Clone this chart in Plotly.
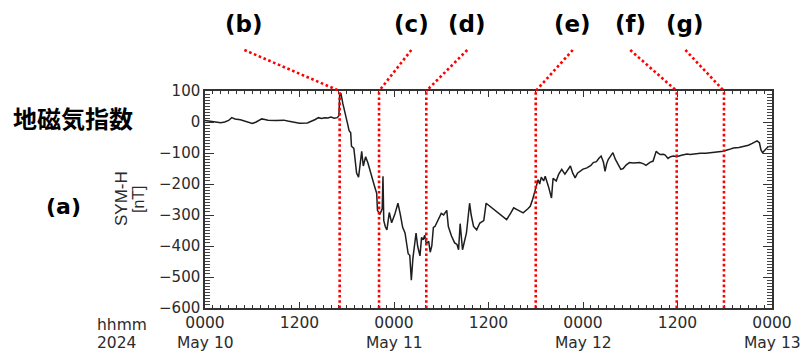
import pandas as pd
import plotly.graph_objects as go

# SYM-H index (nT), sampled by hours after 2024-05-10 00:00 UT
hours = [
    0.0, 0.5, 1.0, 1.5, 2.0, 2.5, 3.0, 3.4, 3.8, 4.5, 5.0, 5.5, 6.0, 6.5, 7.2, 7.6,
    8.0, 9.0, 10.0, 10.5, 11.0, 12.0, 13.0, 13.5, 14.0, 14.4, 14.8, 15.2, 15.6, 16.0,
    16.4, 16.8, 17.0, 17.1, 17.25, 17.5, 17.8, 18.1, 18.3, 18.5, 18.6, 18.9, 19.1,
    19.25, 19.5, 19.7, 19.9, 20.1, 20.4, 20.7, 20.95, 21.3, 21.5, 21.8, 21.9, 22.2,
    22.5, 22.6, 22.7, 22.9, 23.1, 23.4, 23.7, 24.1, 24.5, 24.8, 25.1, 25.4, 25.8,
    26.0, 26.2, 26.4, 26.6, 26.8, 27.0, 27.3, 27.5, 27.7, 27.9, 28.1, 28.4, 28.6,
    28.8, 29.0, 29.2, 29.6, 30.0, 30.3, 30.7, 30.9, 31.3, 31.7, 32.0, 32.2, 32.4,
    32.7, 33.0, 33.2, 33.6, 33.8, 34.1, 34.5, 34.9, 35.4, 35.7, 36.2, 36.6, 37.0,
    37.6, 38.3, 38.8, 39.2, 39.8, 40.4, 41.0, 41.3, 41.6, 41.9, 42.3, 42.5, 42.7,
    43.0, 43.2, 43.6, 44.0, 44.2, 44.6, 44.9, 45.3, 45.7, 46.0, 46.4, 46.7, 47.0,
    47.3, 47.6, 48.0, 48.5, 49.0, 49.3, 49.7, 50.0, 50.3, 50.6, 50.8, 51.0, 51.2,
    51.5, 51.8, 52.1, 52.5, 52.8, 53.1, 53.5, 53.9, 54.4, 55.2, 55.7, 56.0, 56.5,
    56.9, 57.3, 57.5, 57.8, 58.2, 58.4, 58.8, 59.1, 59.5, 59.9, 60.5, 61.2, 61.6,
    62.3, 62.9, 63.6, 64.3, 65.0, 65.8, 66.5, 67.1, 67.8, 68.4, 69.0, 69.5, 69.8,
    70.1, 70.4, 70.6, 70.8, 71.0, 71.2, 71.5, 71.8, 72.0,
]
symh = [
    5, 3, 1, 0, -2, 0, 5, 14, 10, 7, 3, -1, -5, 0, 10, 8,
    6, 5, 6, 3, 0, -4, -3, 2, 8, 14, 11, 14, 13, 16,
    12, 14, 20, 85, 93, 60, 32, -5, -28, -35, -78, -85, -130,
    -165, -178, -140, -95, -142, -112, -133, -158, -185, -205, -230, -285, -298,
    -280, -175, -318, -338, -348, -292, -325, -298, -262, -298, -340, -358, -425,
    -430, -510, -440, -400, -358, -400, -432, -372, -380, -365, -392, -385, -420,
    -400, -340, -337, -315, -295, -300, -285, -337, -368, -390, -395, -412, -328,
    -412, -380, -358, -262, -300, -337, -348, -326, -318, -262, -272, -280, -288,
    -300, -315, -295, -277, -285, -293, -280, -272, -250, -225, -186, -200, -178,
    -190, -175, -207, -245, -182, -190, -169, -153, -168, -155, -142, -165, -180,
    -165, -159, -152, -148, -140, -131, -128, -118, -110, -130, -159, -135, -121,
    -110, -99, -120, -137, -153, -150, -138, -131, -132, -131, -135, -140, -130,
    -126, -94, -100, -105, -104, -106, -118, -112, -110, -112, -107, -103, -105,
    -102, -101, -101, -99, -97, -94, -89, -84, -82, -78, -75, -69, -66,
    -61, -67, -90, -99, -95, -88, -80, -78, -80,
]

# Marked epochs (hours after start) and their captions
event_labels = ["(b)", "(c)", "(d)", "(e)", "(f)", "(g)"]
event_hours = [17.1, 22.1, 28.1, 42.0, 59.9, 65.9]
caption_hours = [5.0, 26.2, 33.3, 46.7, 54.0, 61.0]

tick_hours = [0, 12, 24, 36, 48, 60, 72]
tick_text = ["0000", "1200", "0000", "1200", "0000", "1200", "0000"]
date_hours = [0, 24, 48, 72]
date_text = ["May 10", "May 11", "May 12", "May 13"]

t0 = pd.Timestamp("2024-05-10")


def when(h):
    return t0 + pd.to_timedelta(h, unit="h")


W, H = 805, 358
ML, MR, MT, MB = 205, 33, 91, 50
PW, PH = W - ML - MR, H - MT - MB


def px_x(x):
    return (x - ML) / PW


def px_y(y):
    return (H - MB - y) / PH


fig = go.Figure()
fig.add_trace(go.Scatter(
    x=[when(h) for h in hours], y=symh, mode="lines",
    line=dict(color="#1e1e1e", width=1.5), showlegend=False, hoverinfo="skip",
))

red = dict(color="#ff0000", width=2.6, dash="2.6px,2.6px")
shapes = []
for eh, ch in zip(event_hours, caption_hours):
    shapes.append(dict(type="line", xref="x", yref="paper", x0=when(eh), x1=when(eh),
                       y0=0, y1=1, line=red, layer="above"))
    shapes.append(dict(type="line", xref="x", yref="paper", x0=when(ch), x1=when(eh),
                       y0=px_y(50), y1=1, line=red, layer="above"))

bold = dict(family="DejaVu Sans", size=23, color="black", weight="bold")
small = dict(family="DejaVu Sans", size=15.5, color="#2b2b2b")
annotations = []
for lab, ch in zip(event_labels, caption_hours):
    annotations.append(dict(text=lab, xref="x", yref="paper", x=when(ch), y=px_y(24),
                            xanchor="center", yanchor="middle", showarrow=False, font=bold))

for dh, dt in zip(date_hours, date_text):
    annotations.append(dict(text=dt, xref="x", yref="paper", x=when(dh), y=px_y(343),
                            xanchor="center", yanchor="middle", showarrow=False, font=small))

annotations += [
    dict(text="hhmm", xref="paper", yref="paper", x=px_x(95), y=px_y(325), xanchor="left",
         yanchor="middle", showarrow=False, font=small),
    dict(text="2024", xref="paper", yref="paper", x=px_x(95), y=px_y(343), xanchor="left",
         yanchor="middle", showarrow=False, font=small),
    dict(text="地磁気指数", xref="paper", yref="paper", x=px_x(11), y=px_y(117), xanchor="left",
         yanchor="middle", showarrow=False,
         font=dict(family="Noto Sans CJK JP", size=24, color="black", weight="bold")),
    dict(text="(a)", xref="paper", yref="paper", x=px_x(63), y=px_y(206), xanchor="center",
         yanchor="middle", showarrow=False,
         font=dict(family="DejaVu Sans", size=22, color="black", weight="bold")),
    dict(text="SYM-H", xref="paper", yref="paper", x=px_x(121), y=px_y(199), xanchor="center",
         yanchor="middle", textangle=-90, showarrow=False,
         font=dict(family="Liberation Sans", size=17, color="#2b2b2b")),
    dict(text="[nT]", xref="paper", yref="paper", x=px_x(138), y=px_y(199), xanchor="center",
         yanchor="middle", textangle=-90, showarrow=False,
         font=dict(family="Liberation Sans", size=16, color="#2b2b2b")),
]

axis_common = dict(showline=True, linecolor="#333333", linewidth=1.5, mirror="allticks",
                   ticks="inside", tickcolor="#333333", showgrid=False, zeroline=False)

fig.update_layout(
    width=W, height=H, margin=dict(l=ML, r=MR, t=MT, b=MB),
    paper_bgcolor="white", plot_bgcolor="white",
    shapes=shapes, annotations=annotations,
    xaxis=dict(
        **axis_common, type="date", range=[when(0), when(72)],
        tickmode="array", tickvals=[when(h) for h in tick_hours], ticktext=tick_text,
        ticklen=6, tickwidth=1.2, tickfont=small,
        minor=dict(ticks="inside", dtick=3600000, tick0=when(0), ticklen=3,
                   tickcolor="#333333", tickwidth=1),
    ),
    yaxis=dict(
        **axis_common, range=[-600, 100], tickmode="linear", tick0=0, dtick=100,
        ticklen=9, tickwidth=1.2,
        tickfont=dict(family="DejaVu Sans", size=15, color="#2b2b2b"),
        minor=dict(ticks="inside", dtick=10, ticklen=5, tickcolor="#444444", tickwidth=1),
    ),
)

fig.write_html("out.html")
